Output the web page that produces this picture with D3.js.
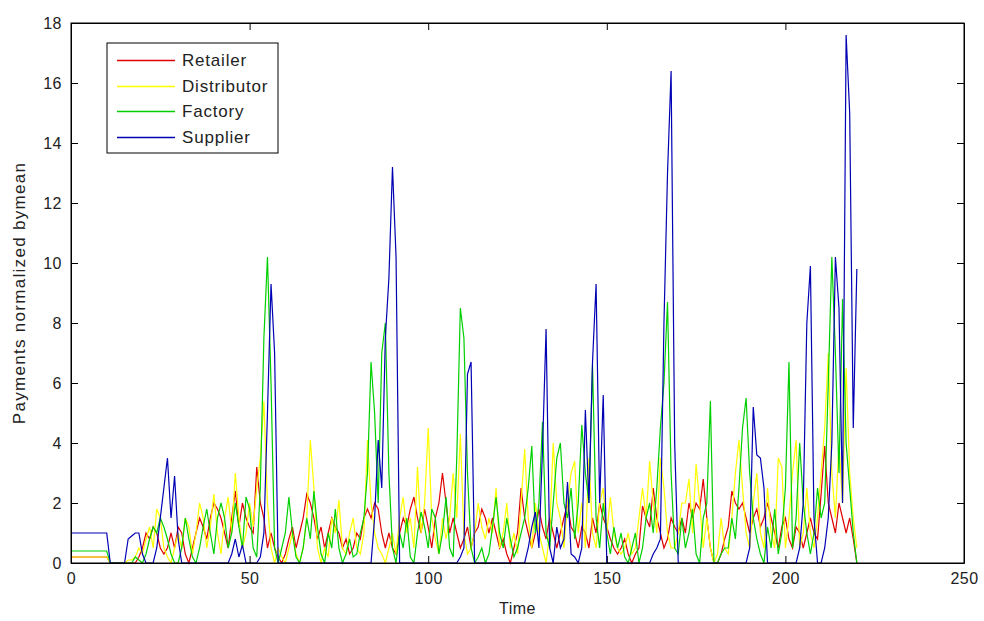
<!DOCTYPE html>
<html>
<head>
<meta charset="utf-8">
<script src="https://cdn.jsdelivr.net/npm/d3@7"></script>
<style>
  body { margin: 0; background: #fff; }
  text { font-family: "Liberation Sans", Arial, sans-serif; }
</style>
</head>
<body>
<svg id="chart" width="984" height="621"></svg>
<script>
// payments normalized by mean, one value per time step (t = 0..220)
var retailer = [
  0.2,0.2,0.2,0.2,0.2,0.2,0.2,0.2,0.2,0.2,
  0.2,0,0,0,0,0,0,0,0,0.2,
  0.5,1.0,0.8,1.2,1.0,0.5,0.3,0.5,1.0,0.5,
  1.2,1.0,0.3,0,0.5,1.0,1.5,1.2,0.8,1.5,
  2.0,1.8,1.5,1.0,0.5,1.5,2.4,1.2,2.0,1.5,
  1.2,1.0,3.2,2.0,1.5,0.5,1.0,0.5,0.2,0,
  0.3,0.8,1.2,0.5,1.0,1.5,2.3,2.0,1.5,0.8,
  1.2,0.5,1.0,1.5,1.2,1.0,0.5,0.8,0.3,0.5,
  1.0,0.8,1.5,1.8,1.5,2.0,1.8,1.0,0.5,1.0,
  0.5,0.3,1.0,1.5,1.2,1.8,2.2,1.5,1.0,1.8,
  1.2,0.5,1.5,2.0,3.0,2.0,1.0,1.5,1.0,0.5,
  0.8,1.2,0.5,1.0,1.2,1.8,1.5,1.0,1.5,1.0,
  0.5,0.8,0.3,0,0.5,1.0,2.5,1.5,1.0,0.5,
  1.0,1.8,1.2,0.8,1.5,1.0,0.5,1.0,1.5,2.0,
  1.2,1.0,0.5,1.2,1.0,0.5,1.5,1.0,2.0,1.5,
  1.2,0.8,0.5,0.3,0.5,0.8,0.3,0,0.3,0.5,
  1.9,1.5,1.2,2.5,1.5,1.0,0.5,0.8,1.5,1.2,
  1.0,1.5,1.0,2.0,1.5,2.0,1.8,2.8,1.5,0.5,
  0,0,0.3,0.8,1.2,2.4,2.0,1.8,2.0,1.5,
  1.0,1.5,1.8,1.2,1.5,2.0,1.5,1.0,0.5,1.2,
  1.5,0.8,0.5,1.2,1.0,0.5,1.0,1.5,1.0,0.8,
  2.3,3.9,2.0,1.5,1.0,2.0,1.5,1.0,1.5,0.8,
  0
];
var distributor = [
  0.2,0.2,0.2,0.2,0.2,0.2,0.2,0.2,0.2,0.2,
  0.2,0,0,0,0,0,0.1,0.1,0.2,0.5,
  0.3,0.8,1.2,0.5,1.8,1.5,0.5,0.2,0,0.5,
  1.0,0.5,1.5,1.2,0.3,1.0,2.0,1.5,0.5,1.2,
  2.3,1.0,0.3,1.5,2.2,1.0,3.0,1.5,0.5,1.0,
  2.0,1.2,2.5,3.5,5.4,2.0,0.5,0,0.5,0.2,
  0,0.5,1.0,0.3,0,0.5,1.5,4.1,2.5,0.5,
  0,0.5,0.2,1.5,1.0,2.1,0.5,0.3,1.0,1.5,
  0.5,0.3,1.0,4.1,2.0,1.0,0.5,0.3,0,0.5,
  1.0,0.3,1.5,2.2,1.0,1.5,0.5,3.2,1.0,2.0,
  4.5,1.5,0.8,0.3,1.5,0.8,1.5,3.0,1.5,4.3,
  1.0,0.3,0.5,1.0,2.0,1.2,0.8,1.5,1.0,2.5,
  0.5,1.0,2.0,0.5,1.0,0.3,2.0,3.8,1.5,0.5,
  2.0,1.0,0.5,0,1.0,4.0,2.0,1.5,0.5,2.0,
  3.0,3.4,1.0,2.0,0.5,3.5,1.0,0.5,2.0,2.5,
  1.0,2.2,1.0,0.5,0.3,0.5,1.0,0.3,0.5,1.5,
  2.5,1.5,3.4,2.0,1.0,3.5,2.5,1.0,0.5,0.5,
  1.0,2.0,2.0,2.8,1.0,3.3,2.0,0.5,1.5,0.5,
  0,0.3,1.5,0.5,0.3,1.5,3.0,4.1,2.5,1.0,
  0.5,2.0,3.0,1.0,0.5,2.5,1.0,0.5,3.5,3.2,
  0.5,1.5,3.0,4.1,0.5,1.0,2.5,1.0,0.5,1.5,
  3.0,4.5,7.0,3.0,1.5,4.0,2.0,6.5,3.0,1.5,
  0.5
];
var factory = [
  0.4,0.4,0.4,0.4,0.4,0.4,0.4,0.4,0.4,0.4,
  0.4,0,0,0,0,0,0,0,0.2,0.1,
  0,0.3,0.8,1.2,1.0,1.5,1.2,0.8,0.3,0,
  0,0.5,1.5,0.8,0.2,0,0.5,1.2,1.8,1.0,
  0.3,1.5,2.0,1.5,0.5,1.0,2.0,1.2,0.5,2.2,
  1.8,0.5,0.2,2.5,7.5,10.2,6.0,0.5,0,0.5,
  1.0,2.2,1.0,0.2,0,0.5,1.5,0.8,2.4,1.2,
  0.3,0,1.0,0.5,1.8,0.5,0,0.3,0.8,0.2,
  0.3,1.0,1.5,3.0,6.7,5.0,2.0,7.0,8.0,3.0,
  0.5,0,1.0,0.5,1.5,0.2,0,1.0,1.7,1.2,
  0.5,1.8,1.5,0.3,1.0,2.2,0.5,0.2,3.5,8.5,
  7.5,3.0,0.5,0,0.2,0.5,0,0.3,1.2,2.2,
  1.0,0.5,1.5,0.8,0.2,0.5,1.0,1.5,2.5,3.9,
  1.0,2.0,4.7,1.0,0.5,2.0,3.5,4.0,2.0,1.5,
  2.5,0.8,2.0,4.6,3.0,2.0,6.6,1.5,0.5,2.0,
  1.0,0.3,1.2,0.5,1.0,0.2,0,0.5,1.0,0,
  0.5,1.5,2.0,1.0,2.5,4.5,6.0,8.7,3.0,0.5,
  0.3,1.5,0.5,1.0,1.8,0.3,0,1.5,2.0,5.4,
  0,0,0.3,0.5,0.5,1.5,0.8,2.5,4.5,5.5,
  3.0,1.5,0.8,0.3,0,1.2,0.5,1.8,0.3,1.0,
  2.5,6.7,0.5,1.5,4.0,2.0,1.0,0.3,1.0,2.5,
  1.5,2.0,6.0,10.2,7.0,3.0,8.8,4.0,2.5,1.0,
  0
];
var supplier = [
  1,1,1,1,1,1,1,1,1,1,
  1,0,0,0,0,0,0.8,0.9,1,1,
  0.3,0,0,0,0.5,1.5,2.5,3.5,1.5,2.9,
  0.8,0,0,0,0,0,0,0,0,0,
  0,0,0,0,0,0.3,0.8,0.2,0.6,0,
  0,0,0,0.2,1.0,5.0,9.3,7.0,0,0,
  0,0,0,0,0,0,0,0,0,0,
  0,0,0,0,0,0,0,0,0,0,
  0,0,0,0,0,1.5,4.1,2.5,7.5,9.5,
  13.2,10.2,0,0,0,0,0,0,0,0,
  0,0,0,0,0,0,0,0,0,0.2,
  0.5,6.3,6.7,0,0,0,0,0,0,0,
  0,0,0,0,0,0,0,0,0.5,1.2,
  1.7,0.5,3.8,7.8,0.5,0,1.2,0.5,0.8,2.7,
  0.3,0.2,0,0.5,5.1,2.0,6.7,9.3,2.0,5.6,
  0,0,0,0,0,0,0,0,0,0,
  0,0,0,0.3,0.5,0.8,8.0,13.0,16.4,4.0,
  0,0,0,0,0,0,0,0,0,0,
  0,0,0,0,0,0,0,0,0,0,
  0.5,5.2,3.6,3.5,2.5,0,0,0,0,0,
  0,0,0,0,0.5,2.0,8.0,9.9,1.5,0,
  0,0.5,1.5,4.0,10.2,8.5,2.0,17.6,15.0,4.5,
  9.8
];
var seriesNames = ["Retailer", "Distributor", "Factory", "Supplier"];
var seriesColors = ["#e00000", "#ffff00", "#00d000", "#0000b4"];
var xTicks = [0, 50, 100, 150, 200, 250];
var yTicks = [0, 2, 4, 6, 8, 10, 12, 14, 16, 18];

var svg = d3.select("#chart");
var plotL = 71, plotR = 964, plotT = 23, plotB = 563;

var x = d3.scaleLinear().domain([0, 250]).range([plotL, plotR]);
var y = d3.scaleLinear().domain([0, 18]).range([plotB, plotT]);

var allSeries = [retailer, distributor, factory, supplier];

var line = d3.line()
    .x(function (d, i) { return x(i); })
    .y(function (d) { return y(d); });

svg.append("g").selectAll("path")
    .data(allSeries)
  .enter().append("path")
    .attr("d", line)
    .attr("fill", "none")
    .attr("stroke", function (d, i) { return seriesColors[i]; })
    .attr("stroke-width", 1.2);

// axes, ticks drawn inside the box like matlab
var tk = 7;
svg.append("g").attr("transform", "translate(0," + plotB + ")")
    .call(d3.axisBottom(x).tickValues(xTicks).tickSizeInner(-tk).tickSizeOuter(0).tickPadding(10));
svg.append("g").attr("transform", "translate(0," + plotT + ")")
    .call(d3.axisTop(x).tickValues(xTicks).tickSizeInner(-tk).tickSizeOuter(0).tickFormat(""));
svg.append("g").attr("transform", "translate(" + plotL + ",0)")
    .call(d3.axisLeft(y).tickValues(yTicks).tickSizeInner(-tk).tickSizeOuter(0).tickPadding(9));
svg.append("g").attr("transform", "translate(" + plotR + ",0)")
    .call(d3.axisRight(y).tickValues(yTicks).tickSizeInner(-tk).tickSizeOuter(0).tickFormat(""));

svg.selectAll(".tick line").attr("stroke", "#000");
svg.selectAll(".domain").attr("stroke", "#000");
svg.selectAll(".tick text").attr("font-size", 16).attr("fill", "#222")
    .style("font-family", "'Liberation Sans', Arial, sans-serif")
    .style("letter-spacing", "0.5px");

svg.append("rect")
    .attr("x", plotL).attr("y", plotT)
    .attr("width", plotR - plotL).attr("height", plotB - plotT)
    .attr("fill", "none").attr("stroke", "#000").attr("stroke-width", 1);

svg.append("text")
    .attr("x", (plotL + plotR) / 2).attr("y", 614)
    .attr("text-anchor", "middle").attr("font-size", 16).attr("fill", "#222")
    .style("letter-spacing", "0.5px")
    .text("Time");

svg.append("text")
    .attr("transform", "translate(25," + ((plotT + plotB) / 2) + ") rotate(-90)")
    .attr("text-anchor", "middle").attr("font-size", 17).attr("fill", "#222")
    .style("letter-spacing", "1.3px")
    .text("Payments normalized bymean");

// legend
var legend = svg.append("g");
legend.append("rect")
    .attr("x", 107).attr("y", 43).attr("width", 171).attr("height", 110)
    .attr("fill", "#fff").attr("stroke", "#000");

var rows = legend.selectAll("g.row")
    .data(seriesNames)
  .enter().append("g")
    .attr("class", "row")
    .attr("transform", function (d, i) { return "translate(0," + (60 + Math.round(i * 25.5)) + ")"; });

rows.append("line")
    .attr("x1", 117).attr("x2", 175).attr("y1", 0.5).attr("y2", 0.5)
    .attr("stroke", function (d, i) { return seriesColors[i]; })
    .attr("stroke-width", 1.5);

rows.append("text")
    .attr("x", 182).attr("y", 6)
    .attr("font-size", 17).attr("fill", "#222")
    .style("letter-spacing", "0.8px")
    .text(function (d) { return d; });
</script>
</body>
</html>
